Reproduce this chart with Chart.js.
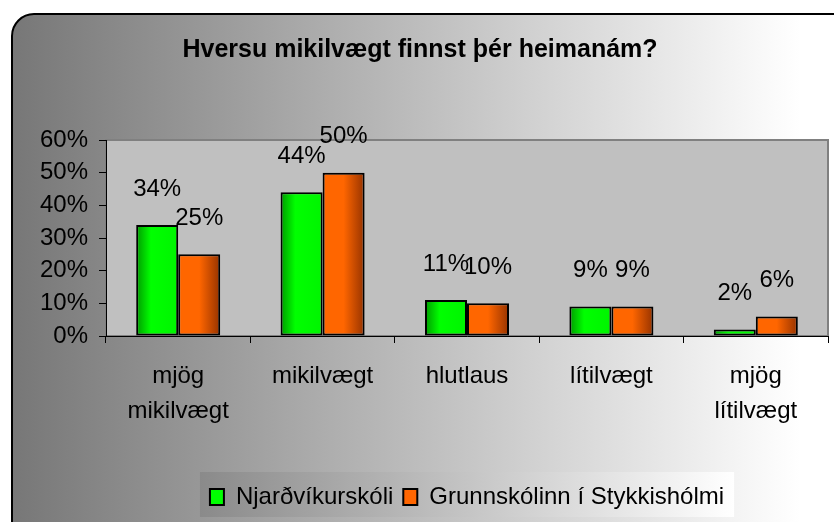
<!DOCTYPE html>
<html>
<head>
<meta charset="utf-8">
<script src="https://cdn.jsdelivr.net/npm/chart.js@4.4.1/dist/chart.umd.min.js"></script>
<style>
  html, body { margin: 0; padding: 0; background: #fff; }
</style>
</head>
<body>
<canvas id="homeworkChart" width="834" height="522"></canvas>
<script>
// data
const categories = [['mjög', 'mikilvægt'], 'mikilvægt', 'hlutlaus', 'lítilvægt', ['mjög', 'lítilvægt']];
const njardvik = [34, 44, 11, 9, 2];
const stykkisholmur = [25, 50, 10, 9, 6];
const seriesNames = ['Njarðvíkurskóli', 'Grunnskólinn í Stykkishólmi'];
const yTicks = [0, 10, 20, 30, 40, 50, 60];
const chartTitle = 'Hversu mikilvægt finnst þér heimanám?';

const FONT = "'Liberation Sans', Arial, sans-serif";
Chart.defaults.font.family = FONT;
Chart.defaults.color = '#000';

// gradient stops for the bars (dark edge -> bright)
const barShades = [
    [[0, '#009a00'], [0.35, '#00ff00'], [1, '#00f400']],
    [[0, '#ff6600'], [0.5, '#ff6600'], [1, '#963300']]
];

// background, legend box and plot area
const backgroundPlugin = {
    id: 'background',
    beforeDraw(chart) {
        const ctx = chart.ctx;
        const area = chart.chartArea;
        ctx.save();
        ctx.fillStyle = '#fff';
        ctx.fillRect(0, 0, chart.width, chart.height);

        const grad = ctx.createLinearGradient(12, 0, 800, 0);
        grad.addColorStop(0, '#777777');
        grad.addColorStop(1, '#ffffff');
        ctx.beginPath();
        ctx.roundRect(12, 14, chart.width + 8, chart.height + 20, 22);
        ctx.fillStyle = grad;
        ctx.fill();
        ctx.lineWidth = 2;
        ctx.strokeStyle = '#000';
        ctx.stroke();

        // legend box
        const legend = chart.legend;
        if (legend && legend.legendHitBoxes && legend.legendHitBoxes.length) {
            const boxes = legend.legendHitBoxes;
            const l = Math.min(...boxes.map(b => b.left)) - 10;
            const r = Math.max(...boxes.map(b => b.left + b.width)) + 10;
            const lg = ctx.createLinearGradient(l, 0, r, 0);
            lg.addColorStop(0, '#8a8a8a');
            lg.addColorStop(1, '#ffffff');
            ctx.fillStyle = lg;
            ctx.fillRect(l, legend.top - 3, r - l, legend.bottom - legend.top + 1);
        }

        // plot area
        ctx.fillStyle = '#c0c0c0';
        ctx.fillRect(area.left, area.top, area.right - area.left, area.bottom - area.top);
        ctx.strokeStyle = '#808080';
        ctx.lineWidth = 2;
        ctx.strokeRect(area.left, area.top, area.right - area.left, area.bottom - area.top);
        ctx.restore();
    }
};

// horizontal gradient on every bar
const barShadePlugin = {
    id: 'barShade',
    beforeDatasetsDraw(chart) {
        const ctx = chart.ctx;
        chart.data.datasets.forEach((ds, d) => {
            chart.getDatasetMeta(d).data.forEach(bar => {
                const half = bar.width / 2;
                const g = ctx.createLinearGradient(bar.x - half, 0, bar.x + half, 0);
                barShades[d].forEach(s => g.addColorStop(s[0], s[1]));
                bar.options = Object.assign({}, bar.options, { backgroundColor: g });
            });
        });
    }
};

// value labels above the bars
const valueLabelPlugin = {
    id: 'valueLabels',
    afterDatasetsDraw(chart) {
        const ctx = chart.ctx;
        ctx.save();
        ctx.font = '24px ' + FONT;
        ctx.fillStyle = '#000';
        ctx.textAlign = 'center';
        ctx.textBaseline = 'middle';
        chart.data.datasets.forEach((ds, d) => {
            chart.getDatasetMeta(d).data.forEach((bar, i) => {
                ctx.fillText(ds.data[i] + '%', bar.x, bar.y - 36);
            });
        });
        ctx.restore();
    }
};

const ctx = document.getElementById('homeworkChart').getContext('2d');
new Chart(ctx, {
    type: 'bar',
    data: {
        labels: categories,
        datasets: [{
            label: seriesNames[0],
            data: njardvik,
            backgroundColor: '#00ff00',
            borderColor: '#000',
            borderWidth: 2,
            borderSkipped: false
        }, {
            label: seriesNames[1],
            data: stykkisholmur,
            backgroundColor: '#ff6600',
            borderColor: '#000',
            borderWidth: 2,
            borderSkipped: false
        }]
    },
    options: {
        responsive: false,
        animation: false,
        events: [],
        categoryPercentage: 0.582,
        barPercentage: 1.0,
        layout: { padding: { left: 12, right: 6, top: 0, bottom: 3 } },
        plugins: {
            title: {
                display: true,
                text: chartTitle,
                color: '#000',
                font: { size: 25, weight: 'bold', lineHeight: 1.2 },
                padding: { top: 35, bottom: 75 }
            },
            legend: {
                position: 'bottom',
                fullSize: false,
                labels: {
                    color: '#000',
                    font: { size: 24 },
                    boxWidth: 14,
                    boxHeight: 16,
                    padding: 10
                }
            },
            tooltip: { enabled: false }
        },
        scales: {
            x: {
                grid: { offset: true, drawOnChartArea: false, tickLength: 7, color: '#000' },
                border: { color: '#000' },
                ticks: { color: '#000', font: { size: 24, lineHeight: 1.46 }, padding: 16, maxRotation: 0, autoSkip: false },
                afterFit(scale) { scale.height = 139; }
            },
            y: {
                min: 0,
                max: 60,
                afterBuildTicks(scale) { scale.ticks = yTicks.map(v => ({ value: v })); },
                ticks: { color: '#000', font: { size: 24 }, padding: 11, callback: v => v + '%' },
                grid: { drawOnChartArea: false, tickLength: 7, color: '#000' },
                border: { color: '#000' },
                afterFit(scale) { scale.width = 94; }
            }
        }
    },
    plugins: [backgroundPlugin, barShadePlugin, valueLabelPlugin]
});
</script>
</body>
</html>
